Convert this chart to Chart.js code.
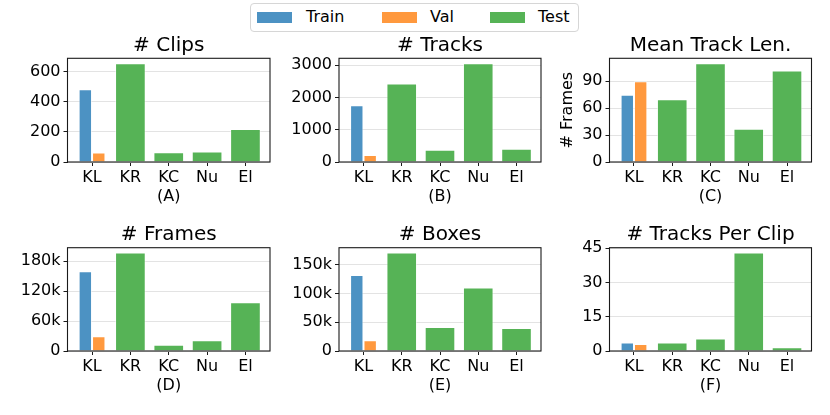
<!DOCTYPE html>
<html>
<head>
<meta charset="utf-8">
<script src="https://cdn.jsdelivr.net/npm/chart.js@4"></script>
<style>
  body { margin: 0; width: 830px; height: 415px; background: #fff; position: relative; overflow: hidden; font-family: "DejaVu Sans", sans-serif; }
  canvas { position: absolute; }
  #legend { position: absolute; left: 250px; top: 3px; width: 329px; height: 29px; box-sizing: border-box; border: 1px solid #d6d6d6; border-radius: 4px; }
  .sw { position: absolute; top: 8px; width: 35px; height: 11px; }
  .lt { position: absolute; top: 3px; font-size: 16px; line-height: 20px; color: #000; }
</style>
</head>
<body>
<div id="legend"></div>
<canvas id="pA"></canvas>
<canvas id="pB"></canvas>
<canvas id="pC"></canvas>
<canvas id="pD"></canvas>
<canvas id="pE"></canvas>
<canvas id="pF"></canvas>
<script>
// data
const categories = ['KL', 'KR', 'KC', 'Nu', 'El'];
const seriesNames = ['Train', 'Val', 'Test'];
const seriesColors = ['#4c92c3', '#ff993e', '#56b356'];

const clipsTrain = [483, null, null, null, null];
const clipsVal = [63, null, null, null, null];
const clipsTest = [null, 656, 65, 70, 220];

const tracksTrain = [1759, null, null, null, null];
const tracksVal = [216, null, null, null, null];
const tracksTest = [null, 2426, 380, 3055, 410];

const lenTrain = [75, null, null, null, null];
const lenVal = [90, null, null, null, null];
const lenTest = [null, 70, 110, 37, 102];

const framesTrain = [160000, null, null, null, null];
const framesVal = [29400, null, null, null, null];
const framesTest = [null, 197400, 12700, 21400, 98000];

const boxesTrain = [132000, null, null, null, null];
const boxesVal = [18500, null, null, null, null];
const boxesTest = [null, 170700, 41500, 110000, 39800];

const perClipTrain = [3.7, null, null, null, null];
const perClipVal = [3.1, null, null, null, null];
const perClipTest = [null, 3.7, 5.5, 43, 1.6];

// tick values + labels
const clipsTicks = [0, 200, 400, 600];
const clipsTickLabels = ['0', '200', '400', '600'];
const tracksTicks = [0, 1000, 2000, 3000];
const tracksTickLabels = ['0', '1000', '2000', '3000'];
const lenTicks = [0, 30, 60, 90];
const lenTickLabels = ['0', '30', '60', '90'];
const framesTicks = [0, 60000, 120000, 180000];
const framesTickLabels = ['0', '60k', '120k', '180k'];
const boxesTicks = [0, 50000, 100000, 150000];
const boxesTickLabels = ['0', '50k', '100k', '150k'];
const perClipTicks = [0, 15, 30, 45];
const perClipTickLabels = ['0', '15', '30', '45'];

const FONT = '"DejaVu Sans", sans-serif';

// legend (html)
const legendPos = [[6, 55], [131, 179], [239, 287]];
const legend = document.getElementById('legend');
seriesNames.forEach((name, i) => {
  legend.insertAdjacentHTML('beforeend',
    `<div class="sw" style="left:${legendPos[i][0]}px;background:${seriesColors[i]}"></div>` +
    `<div class="lt" style="left:${legendPos[i][1]}px">${name}</div>`);
});

const panels = [
  { id: 'pA', title: '# Clips', xLabel: '(A)', train: clipsTrain, val: clipsVal, test: clipsTest, ticks: clipsTicks, tickLabels: clipsTickLabels,
    cl: 0, ct: 30, area: { l: 67.5, r: 270, t: 58.3, b: 162 } },
  { id: 'pB', title: '# Tracks', xLabel: '(B)', train: tracksTrain, val: tracksVal, test: tracksTest, ticks: tracksTicks, tickLabels: tracksTickLabels,
    cl: 276, ct: 30, area: { l: 339, r: 541, t: 58.3, b: 162 } },
  { id: 'pC', title: 'Mean Track Len.', xLabel: '(C)', yTitle: '# Frames', train: lenTrain, val: lenVal, test: lenTest, ticks: lenTicks, tickLabels: lenTickLabels,
    cl: 547, ct: 30, area: { l: 609.5, r: 811.5, t: 58.3, b: 162 } },
  { id: 'pD', title: '# Frames', xLabel: '(D)', train: framesTrain, val: framesVal, test: framesTest, ticks: framesTicks, tickLabels: framesTickLabels,
    cl: 0, ct: 214, area: { l: 67.5, r: 270, t: 247.7, b: 350.7 } },
  { id: 'pE', title: '# Boxes', xLabel: '(E)', train: boxesTrain, val: boxesVal, test: boxesTest, ticks: boxesTicks, tickLabels: boxesTickLabels,
    cl: 276, ct: 214, area: { l: 339, r: 541, t: 247.7, b: 350.7 } },
  { id: 'pF', title: '# Tracks Per Clip', xLabel: '(F)', train: perClipTrain, val: perClipVal, test: perClipTest, ticks: perClipTicks, tickLabels: perClipTickLabels,
    cl: 547, ct: 214, area: { l: 609.5, r: 811.5, t: 247.7, b: 350.7 } }
];

// draws all four spines like matplotlib
const framePlugin = {
  id: 'frame',
  afterDraw(chart) {
    const { ctx, chartArea: a } = chart;
    ctx.save();
    ctx.strokeStyle = '#1a1a1a';
    ctx.lineWidth = 1.1;
    ctx.strokeRect(a.left, a.top, a.right - a.left, a.bottom - a.top);
    ctx.restore();
  }
};

const xAxisH = 44;

function toXY(arr) {
  return arr.map((v, i) => ({ x: i, y: v }));
}

panels.forEach(p => {
  const canvas = document.getElementById(p.id);
  const w = Math.ceil(p.area.r + 6 - p.cl);
  const h = Math.ceil(p.area.b + xAxisH - p.ct);
  canvas.width = w;
  canvas.height = h;
  canvas.style.left = p.cl + 'px';
  canvas.style.top = p.ct + 'px';
  canvas.style.width = w + 'px';
  canvas.style.height = h + 'px';

  const yAxisW = p.area.l - p.cl;
  const titlePadTop = p.area.t - p.ct - 24 - 1;
  const allVals = p.train.concat(p.val, p.test).filter(v => v !== null);
  const yMax = Math.max(...allVals) * 1.05;

  new Chart(canvas, {
    type: 'bar',
    data: {
      datasets: [
        { label: 'Train', data: toXY(p.train), backgroundColor: seriesColors[0], categoryPercentage: 0.7 },
        { label: 'Val', data: toXY(p.val), backgroundColor: seriesColors[1], categoryPercentage: 0.7 },
        { label: 'Test', data: toXY(p.test), backgroundColor: seriesColors[2], categoryPercentage: 0.8 }
      ]
    },
    options: {
      responsive: false,
      animation: false,
      devicePixelRatio: 1,
      layout: { padding: { left: 0, right: w - (p.area.r - p.cl), top: 0, bottom: 0 } },
      datasets: {
        bar: { barPercentage: 1, skipNull: true, borderWidth: 1, borderColor: 'rgba(255,255,255,0.55)' }
      },
      plugins: {
        legend: { display: false },
        tooltip: { enabled: false },
        title: {
          display: true, fullSize: false, text: p.title, color: '#000',
          font: { family: FONT, size: 20, weight: 'normal' },
          padding: { top: titlePadTop, bottom: 1 }
        }
      },
      scales: {
        x: {
          type: 'linear', min: -0.64, max: 4.64, offset: false,
          afterBuildTicks: s => { s.ticks = categories.map((c, i) => ({ value: i })); },
          afterFit: s => { s.height = xAxisH; },
          ticks: {
            autoSkip: false, maxRotation: 0, padding: 2, color: '#000',
            font: { family: FONT, size: 16 },
            callback: v => categories[v]
          },
          grid: { display: true, offset: false, drawOnChartArea: false, drawTicks: true, tickLength: 4, tickColor: '#1a1a1a', color: '#1a1a1a' },
          border: { display: false },
          title: { display: true, text: p.xLabel, color: '#000', font: { family: FONT, size: 16 }, padding: { top: 0, bottom: 0 } }
        },
        y: {
          type: 'linear', min: 0, max: yMax,
          afterBuildTicks: s => { s.ticks = p.ticks.map(v => ({ value: v })); },
          afterFit: s => { s.width = yAxisW; },
          ticks: {
            padding: 3, color: '#000',
            font: { family: FONT, size: 16 },
            callback: v => p.tickLabels[p.ticks.indexOf(v)]
          },
          grid: { color: '#e3e3e3', lineWidth: 1, tickLength: 4, tickColor: '#1a1a1a' },
          border: { display: false },
          title: {
            display: !!p.yTitle, text: p.yTitle || '', color: '#000',
            font: { family: FONT, size: 16 }, padding: { top: 11, bottom: 0 }
          }
        }
      }
    },
    plugins: [framePlugin]
  });
});
</script>
</body>
</html>
